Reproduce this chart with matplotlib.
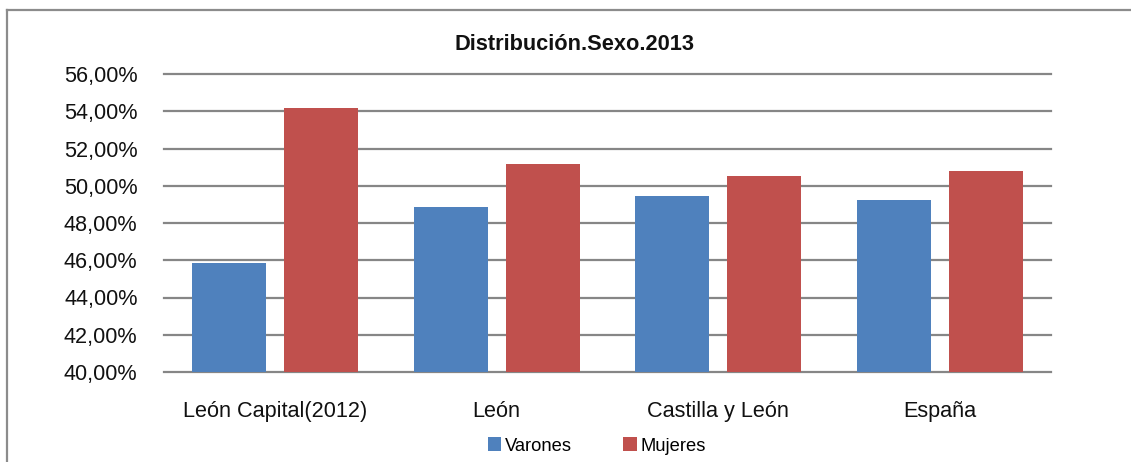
import matplotlib
matplotlib.use("Agg")
import matplotlib.pyplot as plt
from matplotlib.lines import Line2D
from matplotlib.ticker import FuncFormatter
import numpy as np

categories = ["León Capital(2012)", "León", "Castilla y León", "España"]
varones = [45.84, 48.84, 49.47, 49.23]
mujeres = [54.16, 51.16, 50.53, 50.77]
series_names = ["Varones", "Mujeres"]
colors = ["#4F81BD", "#C0504D"]

plt.rcParams['font.family'] = ['Liberation Sans', 'DejaVu Sans']

W, H = 1131, 462
fig = plt.figure(figsize=(W / 100, H / 100), dpi=100)
ax = fig.add_axes([164 / W, 1 - 372 / H, (1051 - 164) / W, (372 - 74) / H])

x = np.arange(len(categories))
bw = 0.333
off = 0.2075
ax.bar(x - off, varones, bw, color=colors[0], label=series_names[0], zorder=3)
ax.bar(x + off, mujeres, bw, color=colors[1], label=series_names[1], zorder=3)

ax.set_ylim(40, 56)
ax.set_xlim(-0.5, len(categories) - 0.5)
ax.set_yticks(np.arange(40, 57, 2))
ax.yaxis.set_major_formatter(FuncFormatter(lambda v, p: f"{v:.2f}%".replace(".", ",")))
ax.set_xticks(x)
ax.set_xticklabels(categories)
ax.tick_params(axis='both', length=0, labelsize=15.6, labelcolor='#111111')
ax.tick_params(axis='x', pad=21)
ax.tick_params(axis='y', pad=19)
ax.grid(axis='y', color='#868686', linewidth=1.6, zorder=0)
for gl in ax.get_ygridlines():
    gl.set_clip_on(False)
for s in ax.spines.values():
    s.set_visible(False)

fig.text(575 / W, 1 - 45 / H, "Distribución.Sexo.2013", ha='center', va='center',
         fontsize=15.7, fontweight='bold', color='#111111')

leg = fig.legend(loc='center', bbox_to_anchor=(597 / W, 1 - 446 / H), ncol=2, frameon=False,
                 fontsize=13.2, handlelength=0.75, handleheight=0.75, handletextpad=0.2,
                 columnspacing=2.8)

fig.add_artist(Line2D([7 / W, 7 / W], [0, 1 - 10 / H], color='#8c8c8c', linewidth=1.6,
                      transform=fig.transFigure))
fig.add_artist(Line2D([7 / W, 1], [1 - 10 / H, 1 - 10 / H], color='#8c8c8c', linewidth=1.6,
                      transform=fig.transFigure))

fig.savefig("out.png", dpi=100)
